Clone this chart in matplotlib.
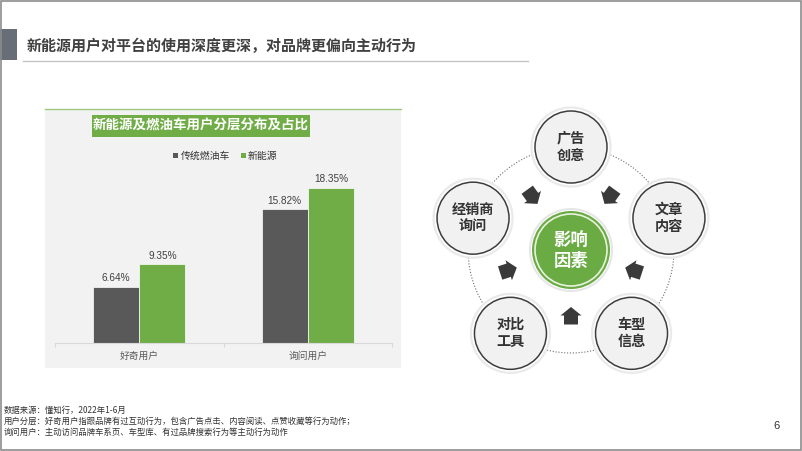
import numpy as np
import matplotlib
matplotlib.use("Agg")
import matplotlib.pyplot as plt
from matplotlib.patches import Rectangle, Circle, Polygon

plt.rcParams['font.family'] = ['Noto Sans CJK SC', 'DejaVu Sans']

# data
title = '新能源用户对平台的使用深度更深，对品牌更偏向主动行为'
chart_title = '新能源及燃油车用户分层分布及占比'
categories = ['好奇用户', '询问用户']
series_names = ['传统燃油车', '新能源']
fuel_values = [6.64, 15.82]
nev_values = [9.35, 18.35]
factors = ['广告\n创意', '文章\n内容', '车型\n信息', '对比\n工具', '经销商\n询问']
center_label = '影响\n因素'
notes = ['数据来源：懂知行，2022年1-6月',
         '用户分层：好奇用户指跟品牌有过互动行为，包含广告点击、内容阅读、点赞收藏等行为动作；',
         '询问用户：主动访问品牌车系页、车型库、有过品牌搜索行为等主动行为动作']
page_no = '6'

GRAY = '#595959'
GREEN = '#70ad47'
TXT = '#404040'
W, H = 802, 451

fig = plt.figure(figsize=(W / 100, H / 100), dpi=100)

# overlay axes in pixel coordinates for the slide decorations
ax0 = fig.add_axes([0, 0, 1, 1], zorder=0)
ax0.set_xlim(0, W)
ax0.set_ylim(H, 0)
ax0.axis('off')

# slide header
ax0.add_patch(Rectangle((0, 29), 17, 31, color='#676e78', lw=0))
ax0.plot([23, 528], [61, 61], color='#c4c4c4', lw=1)
ax0.text(27, 46, title, fontsize=10.8, fontweight='bold', color=TXT,
         ha='left', va='center')

# chart panel
ax0.add_patch(Rectangle((45, 109), 356, 259, facecolor='#f2f2f2', lw=0))
ax0.plot([45, 401], [109, 109], color='#9cc97c', lw=1)
ax0.add_patch(Rectangle((92, 115), 218, 22, facecolor=GREEN, lw=0))
ax0.text(201, 126, chart_title, fontsize=9.7, fontweight='bold', color='white',
         ha='center', va='center')

# legend
for sx, tx, col, name in [(175, 181, GRAY, series_names[0]),
                          (243, 248, GREEN, series_names[1])]:
    ax0.add_patch(Rectangle((sx - 2, 153), 4.5, 4.5, facecolor=col, lw=0))
    ax0.text(tx, 155.5, name, fontsize=7.1, color='#333333', ha='left', va='center')

# bar chart
ax = fig.add_axes([55 / W, 1 - 343 / H, 337 / W, 169 / H], zorder=1)
ax.patch.set_alpha(0)
x = np.arange(len(categories))
bw = 0.273
b1 = ax.bar(x - 0.137, fuel_values, bw, color=GRAY, edgecolor='white', lw=0.5)
b2 = ax.bar(x + 0.137, nev_values, bw, color=GREEN, edgecolor='white', lw=0.5)
for bars, vals in [(b1, fuel_values), (b2, nev_values)]:
    for rect, v in zip(bars, vals):
        ax.annotate('{:.2f}%'.format(v), (rect.get_x() + rect.get_width() / 2, v),
                    xytext=(0, 2.5), textcoords='offset points', ha='center',
                    va='bottom', fontsize=7.2, color=TXT, family='Liberation Sans')
ax.set_xlim(-0.5, 1.5)
ax.set_ylim(0, 20)
ax.set_yticks([])
for s in ['top', 'right', 'left']:
    ax.spines[s].set_visible(False)
ax.spines['bottom'].set_color('#d9d9d9')
ax.spines['bottom'].set_linewidth(0.8)
ax.set_xticks(x)
ax.set_xticklabels(categories, fontsize=7, color=GRAY)
ax.set_xticks([-0.5, 0.5, 1.5], minor=True)
ax.tick_params(axis='x', which='major', length=0, pad=6)
ax.tick_params(axis='x', which='minor', length=3, color='#d9d9d9', width=0.8)

# influence factor diagram
cx, cy = 571, 250
R = 103
ax0.add_patch(Circle((cx, cy), R, fill=False, edgecolor='#6e6e6e', lw=0.8,
                     linestyle=(0, (1, 1.6)), zorder=2))
for i, lab in enumerate(factors):
    ang = np.deg2rad(-90 + 72 * i)
    px, py = cx + R * np.cos(ang), cy + R * np.sin(ang)
    ax0.add_patch(Circle((px, py), 39.5, facecolor='white', edgecolor='#eaeaea',
                         lw=1.6, zorder=3))
    ax0.add_patch(Circle((px, py), 36, facecolor='#f1f1f1', edgecolor='#3d3d3d',
                         lw=1.1, zorder=4))
    ax0.text(px, py, lab, fontsize=10.2, fontweight='bold', color='#333333',
             ha='center', va='center', linespacing=1.3, zorder=5)

    # arrow pointing to the centre
    a2 = np.deg2rad(-54 + 72 * i)
    ax_, ay_ = cx + 66 * np.cos(a2), cy + 66 * np.sin(a2)
    d = np.array([cx - ax_, cy - ay_])
    d = d / np.hypot(*d)
    n = np.array([-d[1], d[0]])
    shape = [(9, 0), (0.5, 10.5), (0.5, 7), (-8.5, 7), (-8.5, -7), (0.5, -7), (0.5, -10.5)]
    pts = [(ax_ + u * d[0] + v * n[0], ay_ + u * d[1] + v * n[1]) for u, v in shape]
    ax0.add_patch(Polygon(pts, closed=True, facecolor='#3a3a3a', lw=0, zorder=4))

ax0.add_patch(Circle((cx, cy), 41, facecolor='white', edgecolor='#e6e6e6', lw=1.5, zorder=3))
ax0.add_patch(Circle((cx, cy), 39, facecolor='#6aab44', lw=0, zorder=4))
ax0.add_patch(Circle((cx, cy), 36, fill=False, edgecolor='#e8f2df', lw=1.2, zorder=5))
ax0.text(cx, cy + 1, center_label, fontsize=12.5, fontweight='bold', color='white',
         ha='center', va='center', linespacing=1.15, zorder=6)

# footnotes and page number
for i, line in enumerate(notes):
    ax0.text(4, 410 + 11 * i, line, fontsize=6, color='#333333', ha='left', va='center')
ax0.text(777, 426, page_no, fontsize=8, color='#333333', ha='center', va='center',
         family='Liberation Sans')

# slide border
ax0.add_patch(Rectangle((1, 1), W - 2, H - 2, fill=False, edgecolor='#8c8c8c', lw=1.2, zorder=10))

fig.savefig('out.png', dpi=100)
